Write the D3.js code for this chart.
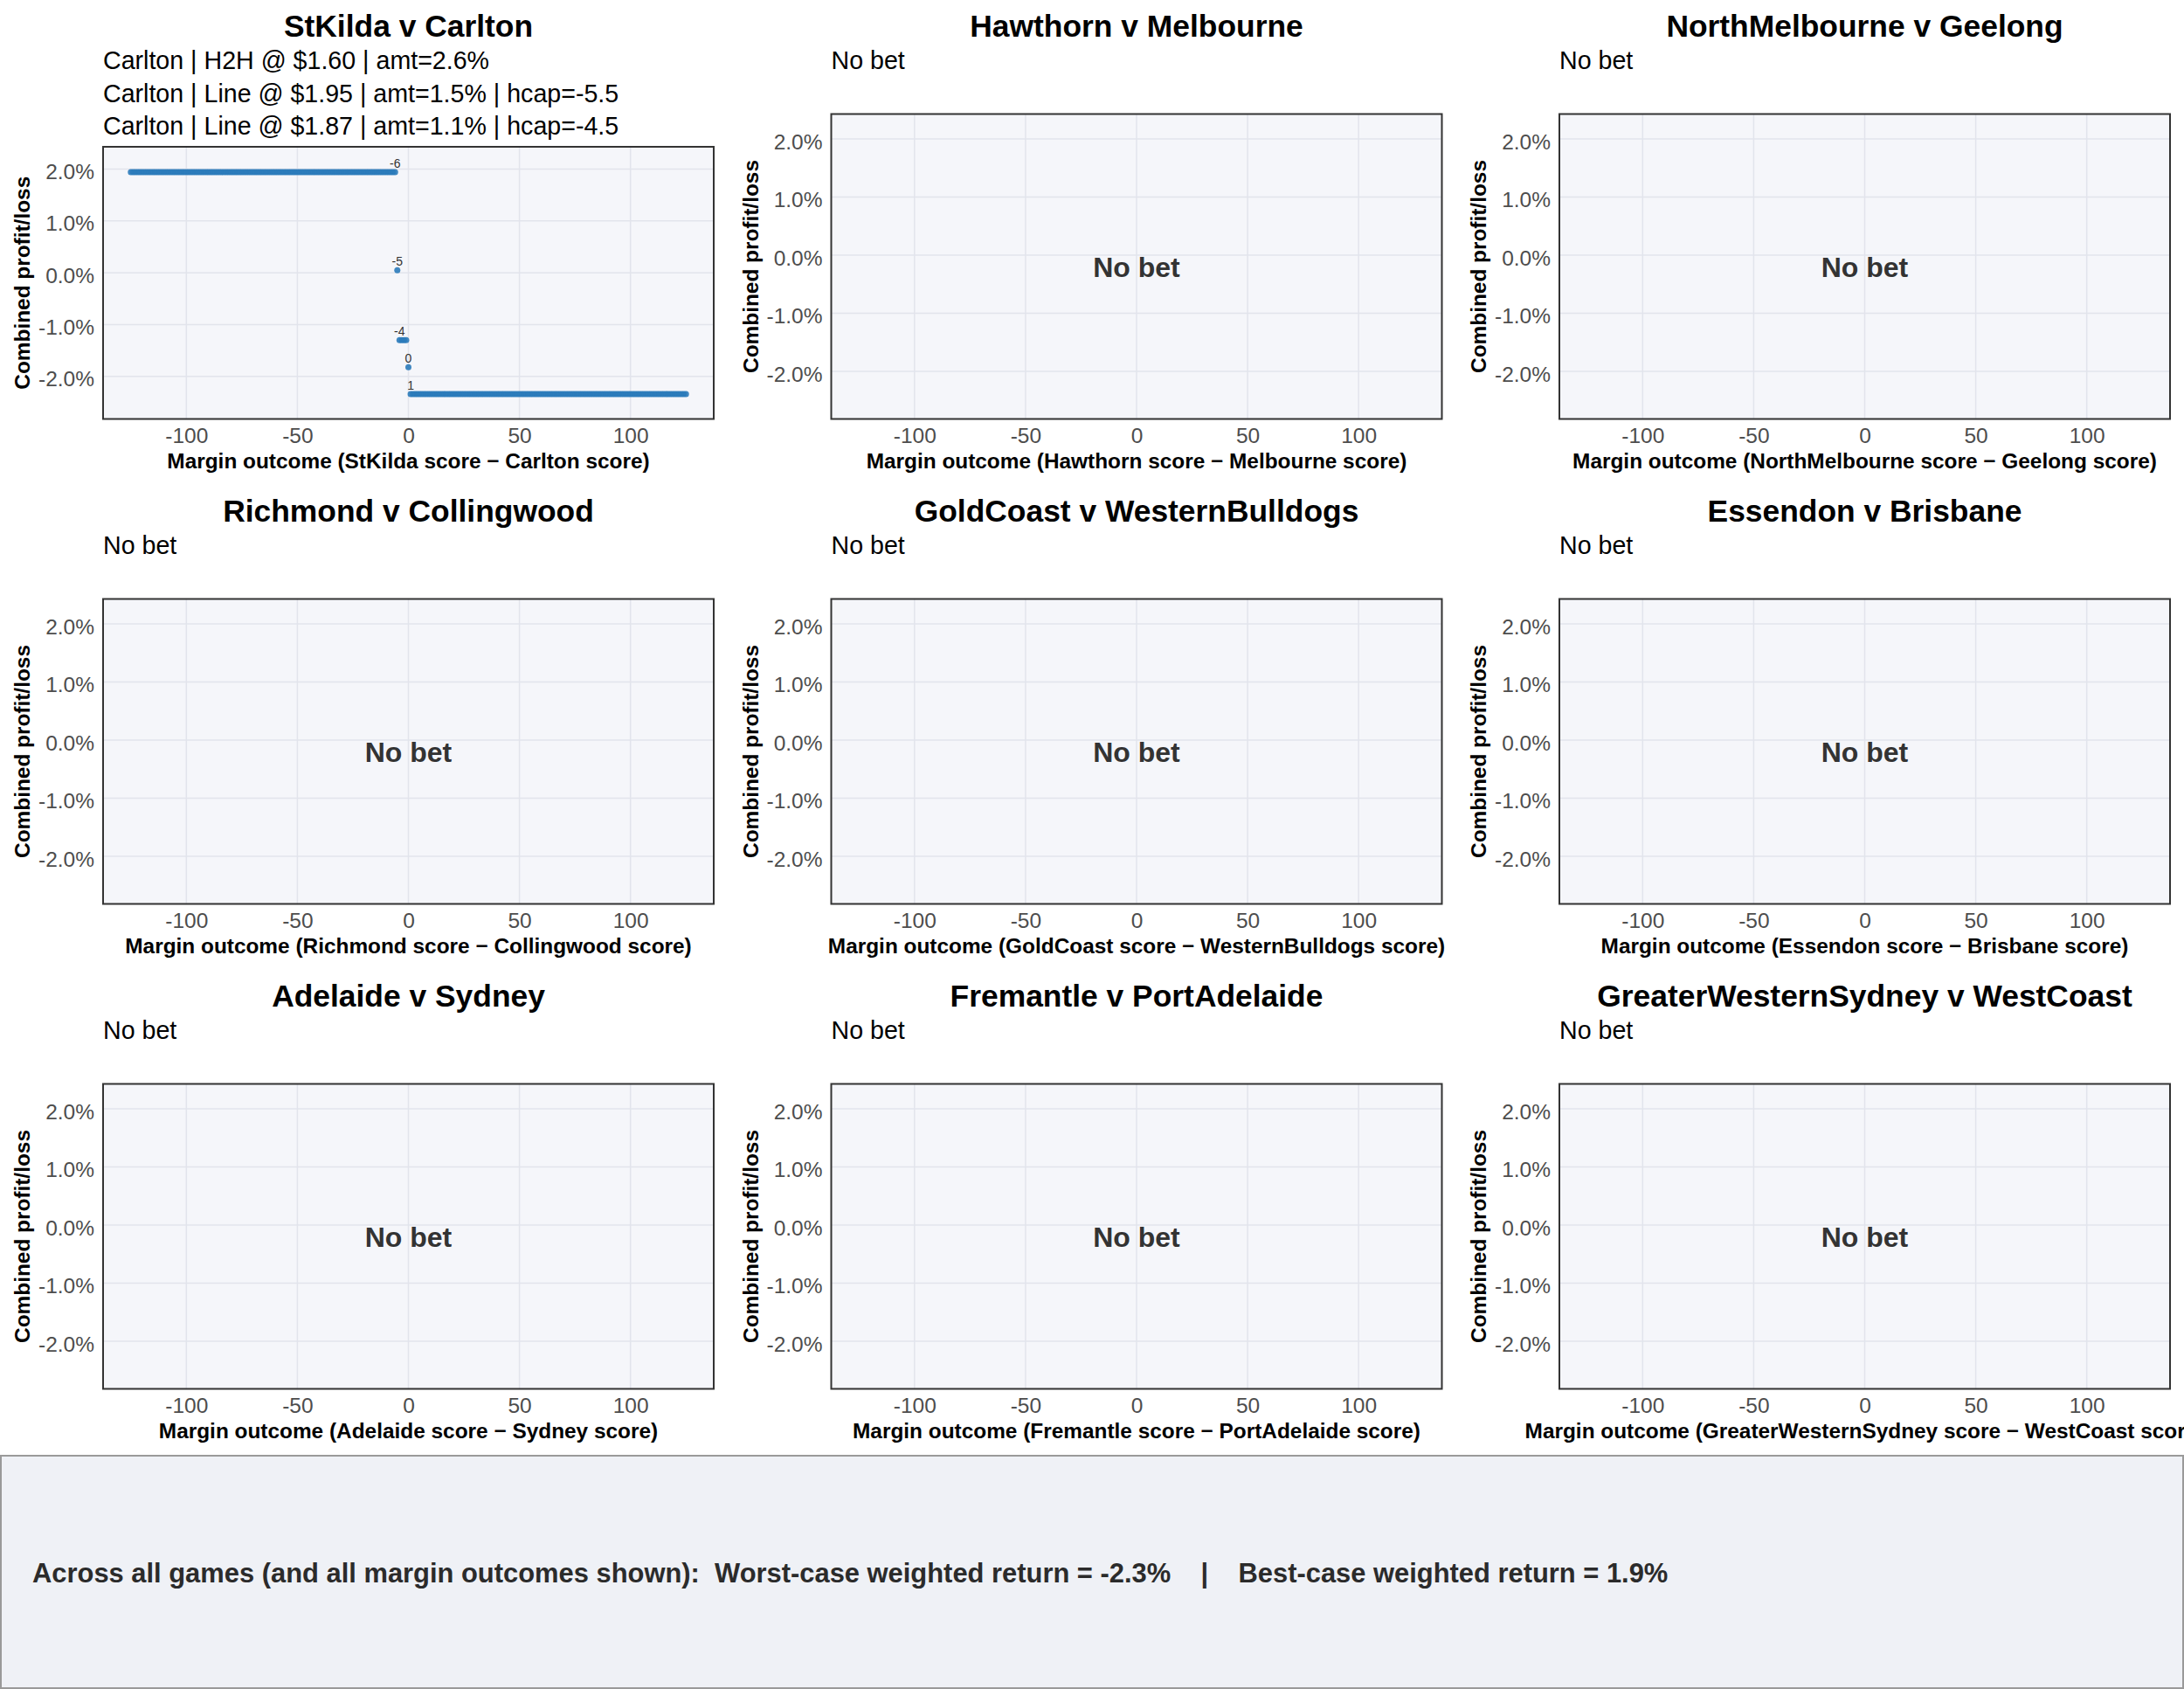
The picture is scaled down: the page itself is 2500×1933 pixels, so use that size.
<!DOCTYPE html>
<html>
<head>
<meta charset="utf-8">
<script src="https://cdn.jsdelivr.net/npm/d3@7/dist/d3.min.js"></script>
<style>
  body { margin: 0; background: #ffffff; }
  svg { display: block; font-family: "Liberation Sans", Arial, sans-serif; }
</style>
</head>
<body>
<script>
// ---------------- DATA ----------------
const homeTeams = ["StKilda", "Hawthorn", "NorthMelbourne", "Richmond", "GoldCoast", "Essendon", "Adelaide", "Fremantle", "GreaterWesternSydney"];
const awayTeams = ["Carlton", "Melbourne", "Geelong", "Collingwood", "WesternBulldogs", "Brisbane", "Sydney", "PortAdelaide", "WestCoast"];
const betLines = [
  ["Carlton | H2H @ $1.60 | amt=2.6%", "Carlton | Line @ $1.95 | amt=1.5% | hcap=-5.5", "Carlton | Line @ $1.87 | amt=1.1% | hcap=-4.5"],
  ["No bet"], ["No bet"], ["No bet"], ["No bet"], ["No bet"], ["No bet"], ["No bet"], ["No bet"]
];
// StKilda v Carlton: combined P/L is constant over runs of margins
const runStart = [-125, -5, -4, 0, 1];
const runEnd   = [-6,   -5, -1, 0, 125];
const runPnl   = [0.0194, 0.0005, -0.0130, -0.0182, -0.0234];
const labelMargins = [-6, -5, -4, 0, 1];
const xTicks = [-100, -50, 0, 50, 100];
const yTicks = [-0.02, -0.01, 0, 0.01, 0.02];
const xDomain = [-137.5, 137.5];
const yDomain = [-0.0282, 0.0243];
const worstCase = -0.023;
const bestCase = 0.019;

// ---------------- LAYOUT ----------------
const W = 2500, H = 1933;
const colLeft = [118, 951.5, 1785];
const panelW = 699;
const rowY0 = [0, 555, 1110];
const fmtLocale = d3.formatLocale({decimal: ".", thousands: ",", grouping: [3], currency: ["$", ""], minus: "-"});
const pctFmt = fmtLocale.format(".1%");
const intFmt = fmtLocale.format("d");

const svg = d3.select("body").append("svg").attr("width", W).attr("height", H);
svg.append("rect").attr("width", W).attr("height", H).attr("fill", "#ffffff");

const points = [];
runStart.forEach((s, i) => {
  for (let m = s; m <= runEnd[i]; m++) points.push({m: m, v: runPnl[i]});
});

homeTeams.forEach((home, gi) => {
  const away = awayTeams[gi];
  const col = gi % 3, row = Math.floor(gi / 3);
  const y0 = rowY0[row];
  const left = colLeft[col];
  const lines = betLines[gi];
  const nLines = Math.max(lines.length, 2);
  const top = y0 + 79 + (nLines - 1) * 37.5 + 14;
  const bottom = y0 + 479.5;
  const hasBet = lines[0] !== "No bet";

  const x = d3.scaleLinear().domain(xDomain).range([left, left + panelW]);
  const y = d3.scaleLinear().domain(yDomain).range([bottom, top]);
  const g = svg.append("g");

  // title
  g.append("text").attr("x", left + panelW / 2).attr("y", y0 + 42)
    .attr("text-anchor", "middle").attr("font-size", 35.4).attr("font-weight", "bold")
    .attr("fill", "#000").text(home + " v " + away);
  // subtitle
  lines.forEach((t, i) => {
    g.append("text").attr("x", left).attr("y", y0 + 79 + i * 37.5)
      .attr("font-size", 28.6).attr("fill", "#000").text(t);
  });

  // panel background
  g.append("rect").attr("x", left).attr("y", top).attr("width", panelW).attr("height", bottom - top)
    .attr("fill", "#f5f6fa");
  // grid
  g.append("g").selectAll("line").data(xTicks).join("line")
    .attr("x1", d => x(d)).attr("x2", d => x(d)).attr("y1", top).attr("y2", bottom)
    .attr("stroke", "#e2e4ec").attr("stroke-width", 1.5);
  g.append("g").selectAll("line").data(yTicks).join("line")
    .attr("x1", left).attr("x2", left + panelW).attr("y1", d => y(d)).attr("y2", d => y(d))
    .attr("stroke", "#e2e4ec").attr("stroke-width", 1.5);

  // axes
  const xAxis = g.append("g").attr("transform", `translate(0,${bottom})`)
    .call(d3.axisBottom(x).tickValues(xTicks).tickSize(0).tickPadding(10).tickFormat(intFmt));
  const yAxis = g.append("g").attr("transform", `translate(${left},0)`)
    .call(d3.axisLeft(y).tickValues(yTicks).tickSize(0).tickPadding(10).tickFormat(pctFmt));
  [xAxis, yAxis].forEach(a => {
    a.select(".domain").remove();
    a.selectAll("text").attr("font-size", 24.5).attr("fill", "#4d4d4d")
      .attr("font-family", '"Liberation Sans", Arial, sans-serif');
  });
  yAxis.selectAll("text").attr("dy", "0.45em");

  // axis titles
  g.append("text").attr("x", left + panelW / 2).attr("y", bottom + 56)
    .attr("text-anchor", "middle").attr("font-size", 24.4).attr("font-weight", "bold").attr("fill", "#000")
    .text("Margin outcome (" + home + " score \u2212 " + away + " score)");
  g.append("text").attr("transform", `translate(${left - 84},${(top + bottom) / 2}) rotate(-90)`)
    .attr("text-anchor", "middle").attr("font-size", 24.4).attr("font-weight", "bold").attr("fill", "#000")
    .text("Combined profit/loss");

  if (hasBet) {
    g.append("g").selectAll("circle").data(points).join("circle")
      .attr("cx", d => x(d.m)).attr("cy", d => y(d.v)).attr("r", 3.5)
      .attr("fill", "#2b7bba").attr("fill-opacity", 0.9);
    g.append("g").selectAll("text").data(points.filter(d => labelMargins.includes(d.m))).join("text")
      .attr("x", d => x(d.m)).attr("y", d => y(d.v) - 5)
      .attr("text-anchor", "middle").attr("font-size", 14).attr("fill", "#333")
      .text(d => intFmt(d.m));
  } else {
    g.append("text").attr("x", left + panelW / 2).attr("y", (top + bottom) / 2)
      .attr("dy", "0.36em").attr("text-anchor", "middle").attr("font-size", 32)
      .attr("font-weight", "bold").attr("fill", "#333").text("No bet");
  }

  // panel border
  g.append("rect").attr("x", left).attr("y", top).attr("width", panelW).attr("height", bottom - top)
    .attr("fill", "none").attr("stroke", "#333").attr("stroke-width", 2);
});

// summary box
svg.append("rect").attr("x", 1).attr("y", 1666).attr("width", W - 2).attr("height", H - 1667)
  .attr("fill", "#eff1f6").attr("stroke", "#9a9a9a").attr("stroke-width", 2);
svg.append("text").attr("x", 37).attr("y", 1811)
  .attr("font-size", 30.9).attr("font-weight", "bold").attr("fill", "#2b2b2b")
  .style("white-space", "pre")
  .text("Across all games (and all margin outcomes shown):  Worst-case weighted return = " + pctFmt(worstCase) + "    |    Best-case weighted return = " + pctFmt(bestCase));
</script>
</body>
</html>
